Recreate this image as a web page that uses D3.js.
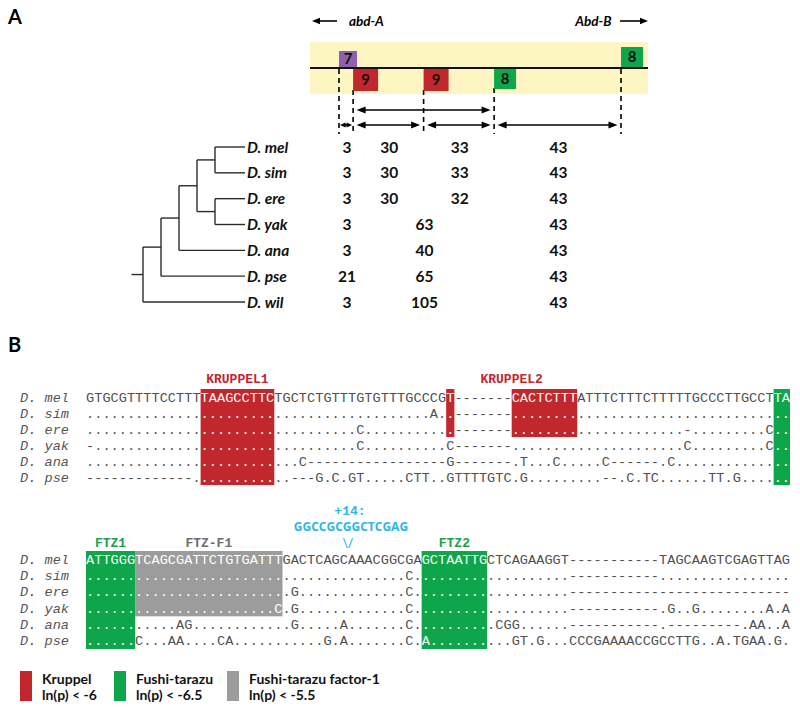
<!DOCTYPE html>
<html><head><meta charset="utf-8">
<script src="https://cdn.jsdelivr.net/npm/d3@7/dist/d3.min.js"></script>
<style>body{margin:0;background:#fff}svg{display:block}</style>
</head><body>
<svg id="chart" width="800" height="711"></svg>
<script>
// ---------------- DATA ----------------
// Panel A: phylogeny + spacing between binding sites
const treeSpecies = ["D. mel","D. sim","D. ere","D. yak","D. ana","D. pse","D. wil"];
const treeNewick = [[[[["D. mel","D. sim"],["D. ere","D. yak"]],"D. ana"],"D. pse"],"D. wil"];
const spacingValues = [
  [3,30,33,43],[3,30,33,43],[3,30,32,43],
  [3,63,43],[3,40,43],[21,65,43],[3,105,43]
];
// binding sites on the schematic map (schematic order positions)
const siteIndex  = [0,1,6,11,20];
const siteLabels = ["7","9","9","8","8"];
const siteFactor = ["other","kr","kr","ftz","ftz"];
const siteStrand = [1,-1,-1,-1,1];
const spanRow1 = [[1,3]];
const spanRow2 = [[0,1],[1,2],[2,3],[3,4]];
const geneLeft = "abd-A", geneRight = "Abd-B";

// Panel B: alignment
const alignSpecies = ["D. mel","D. sim","D. ere","D. yak","D. ana","D. pse"];
const block1 = [
  "GTGCGTTTTCCTTT"+"TAAGCCTTC"+"TGCTCTGTTTGTGTTTGCCCG"+"T"+"-------"+"CACTCTTT"+"ATTTCTTTCTTTTTGCCCTTGCCT"+"TA",
  ".........................................."+"A"+".."+"-------"+"..................................",
  "................................."+"C"+".........."+"."+"-------"+"....................."+"-"+"........."+"C"+"..",
  "-"+"................................"+"C"+".........."+"C"+"-------"+"....................."+"C"+"........."+"C"+"..",
  ".........................."+"C"+"-----------------"+"G"+"-------"+".T...C.....C------.C"+"..............",
  "-------------"+"............"+"---"+"G.C.GT"+"....."+"CTT"+".."+"GTTTTGTC"+".G"+"........."+"--"+".C.TC"+"......"+"TT.G"+"......"
];
const block2 = [
  "ATTGGG"+"TCAGCGATTCTGTGATTT"+"GACTCAGCAAACGGCGA"+"GCTAATTG"+"CTCAGAAGGT"+"-----------"+"TAGCAAGTCGAGTTAG",
  "......................................."+"C"+"."+"........"+".........."+"-----------"+"................",
  "........................."+"G"+"............."+"C"+"."+"........"+".........."+"---------------------------",
  "......................."+"C"+"."+"G"+"............."+"C"+"."+"........"+".........."+"-----------"+".G..G........A.A",
  "..........."+"AG"+"............"+"G"+"....."+"A"+"......."+"C"+"."+"........"+"."+"CGG"+"......"+"-----------"+".---------.AA..A",
  "......"+"C...AA....CA"+"..........."+"G.A"+"......."+"C."+"A......."+"...GT.G..."+"CCCGAAAACCGCCTTG"+"..A.TGAA.G."
];
// motifs (columns inclusive)
const motifs1 = [
  {start:14,end:22,rows:6,factor:"kr",label:"KRUPPEL1",labelFrom:14,labelTo:22},
  {start:44,end:44,rows:3,factor:"kr",label:"KRUPPEL2",labelFrom:44,labelTo:59},
  {start:52,end:59,rows:3,factor:"kr",label:"",labelFrom:52,labelTo:59},
  {start:84,end:85,rows:6,factor:"ftz",label:"",labelFrom:84,labelTo:85}
];
const motifs2 = [
  {start:0,end:5,rows:6,factor:"ftz",label:"FTZ1",labelFrom:0,labelTo:5},
  {start:6,end:23,rows:4,factor:"ftzf1",label:"FTZ-F1",labelFrom:6,labelTo:23},
  {start:41,end:48,rows:6,factor:"ftz",label:"FTZ2",labelFrom:41,labelTo:48}
];
const insertionCol = 32, insertionCount = "+14:", insertionSeq = "GGCCGCGGCTCGAG";

const legendNames = ["Kruppel","Fushi-tarazu","Fushi-tarazu factor-1"];
const legendThresh = ["ln(p) < -6","ln(p) < -6.5","ln(p) < -5.5"];
const legendFactor = ["kr","ftz","ftzf1"];

// ---------------- STYLE ----------------
const colors = {kr:"#c1272d", ftz:"#0ea54b", ftzf1:"#9c9c9c", other:"#9061aa"};
const labelColors = {kr:"#c1272d", ftz:"#1aa04c", ftzf1:"#6d6d6d"};
const boxSize = {other:{w:18,h:16}, kr:{w:25,h:22}, ftz:{w:22,h:20}};
const sans = "Lato, 'Open Sans', sans-serif";
const mono = "'Liberation Mono', monospace";

const svg = d3.select("#chart");

// ---------------- PANEL A ----------------
svg.append("text").attr("x",8).attr("y",24).text("A")
  .attr("font-family",sans).attr("font-weight",700).attr("font-size",20);

const mapX = d3.scaleLinear().domain([0,20]).range([339,621]);
const lineY = 68;

function arrowHead(g, x, y, dir, len, hw, color) {
  g.append("path").attr("d", `M${x},${y} L${x - dir*len},${y-hw} L${x - dir*len},${y+hw} Z`)
    .attr("fill", color||"#000");
}
const ga = svg.append("g");
ga.append("line").attr("x1",337).attr("x2",318).attr("y1",21).attr("y2",21).attr("stroke","#000").attr("stroke-width",1.6);
arrowHead(ga, 312, 21, -1, 8, 3.2);
ga.append("text").attr("x",349).attr("y",25.5).text(geneLeft)
  .attr("font-family",sans).attr("font-style","italic").attr("font-weight",700).attr("font-size",13.5);
ga.append("text").attr("x",611.5).attr("y",25.5).attr("text-anchor","end").text(geneRight)
  .attr("font-family",sans).attr("font-style","italic").attr("font-weight",700).attr("font-size",13.5);
ga.append("line").attr("x1",620).attr("x2",641).attr("y1",21).attr("y2",21).attr("stroke","#000").attr("stroke-width",1.6);
arrowHead(ga, 648, 21, 1, 8, 3.2);

svg.append("rect").attr("x",310).attr("y",42).attr("width",338).attr("height",52).attr("fill","#fdf6c2");
svg.append("line").attr("x1",310).attr("x2",648).attr("y1",lineY).attr("y2",lineY)
  .attr("stroke","#111").attr("stroke-width",2);

const dashBottom = 134;
siteIndex.forEach((s,i)=>{
  const x = mapX(s), b = boxSize[siteFactor[i]];
  const top = siteStrand[i] > 0 ? lineY+1 : lineY + b.h;
  svg.append("line").attr("x1",x).attr("x2",x).attr("y1",top).attr("y2",dashBottom)
    .attr("stroke","#000").attr("stroke-width",1.6).attr("stroke-dasharray","5,4");
});
siteIndex.forEach((s,i)=>{
  const x = mapX(s), b = boxSize[siteFactor[i]];
  const y = siteStrand[i] > 0 ? lineY - 1 - b.h : lineY + 1;
  svg.append("rect").attr("x",x).attr("y",y).attr("width",b.w).attr("height",b.h)
    .attr("fill",colors[siteFactor[i]]);
  svg.append("text").attr("x",x+b.w/2).attr("y",y+b.h/2+5).attr("text-anchor","middle")
    .text(siteLabels[i]).attr("font-family",sans).attr("font-weight",700).attr("font-size",15).attr("fill","#111");
});
function dblArrow(a, b, y) {
  const x1 = mapX(siteIndex[a]), x2 = mapX(siteIndex[b]);
  const inset = (x2-x1) < 20 ? 1 : 3.5;
  const l = x1+inset, r = x2-inset;
  const len = Math.min(9, (r-l)/2 - 0.5), hw = len < 6 ? 2.5 : 3.6;
  svg.append("line").attr("x1",l+len-1).attr("x2",r-len+1).attr("y1",y).attr("y2",y)
    .attr("stroke","#000").attr("stroke-width",1.6);
  arrowHead(svg, l, y, -1, len, hw);
  arrowHead(svg, r, y, 1, len, hw);
}
spanRow1.forEach(d=>dblArrow(d[0],d[1],110));
spanRow2.forEach(d=>dblArrow(d[0],d[1],125));

// tree
const yTree = d3.scalePoint().domain(treeSpecies).range([147,302]);
const xDepth = d3.scaleLinear().domain([0,4]).range([143,215]);
const leafEnd = 245;
const root = d3.hierarchy(treeNewick, d => Array.isArray(d) ? d : null);
root.eachAfter(n=>{
  if (!n.children) { n.py = yTree(n.data); n.px = leafEnd; }
  else { n.py = d3.mean(n.children, c=>c.py); n.px = xDepth(n.depth); }
});
const tg = svg.append("g").attr("stroke","#2b2b2b").attr("stroke-width",1.4).attr("fill","none");
tg.append("line").attr("x1",131.5).attr("x2",root.px).attr("y1",root.py).attr("y2",root.py);
root.descendants().forEach(n=>{
  if (n.parent) tg.append("line").attr("x1",n.parent.px).attr("x2",n.px).attr("y1",n.py).attr("y2",n.py);
  if (n.children) {
    const ys = n.children.map(c=>c.py);
    tg.append("line").attr("x1",n.px).attr("x2",n.px).attr("y1",d3.min(ys)).attr("y2",d3.max(ys));
  }
});
treeSpecies.forEach((sp,i)=>{
  const y = yTree(sp) + 5.5;
  svg.append("text").attr("x",247).attr("y",y).text(sp)
    .attr("font-family",sans).attr("font-style","italic").attr("font-weight",700).attr("font-size",15.5).attr("fill","#111");
  const vals = spacingValues[i];
  const spans = vals.length === 4 ? [[0,1],[1,2],[2,3],[3,4]] : [[0,1],[1,3],[3,4]];
  vals.forEach((v,j)=>{
    const xm = (mapX(siteIndex[spans[j][0]]) + mapX(siteIndex[spans[j][1]]))/2;
    svg.append("text").attr("x",xm+1).attr("y",y).attr("text-anchor","middle").text(v)
      .attr("font-family",sans).attr("font-weight",700).attr("font-size",15.5).attr("fill","#111");
  });
});

// ---------------- PANEL B ----------------
svg.append("text").attr("x",8).attr("y",352).text("B")
  .attr("font-family",sans).attr("font-weight",700).attr("font-size",20);

const colX = d3.scaleLinear().domain([0,86]).range([86,790]);
const cw = colX(1)-colX(0);
const fs = 13.6;

function drawBlock(seqs, motifs, rowScale, labelY) {
  const rh = rowScale(1)-rowScale(0);
  const g = svg.append("g");
  motifs.forEach(m=>{
    g.append("rect").attr("x",colX(m.start)).attr("y",rowScale(0))
      .attr("width",colX(m.end+1)-colX(m.start)).attr("height",rowScale(m.rows)-rowScale(0))
      .attr("fill",colors[m.factor]);
    if (m.label) {
      g.append("text").attr("x",(colX(m.labelFrom)+colX(m.labelTo+1))/2).attr("y",labelY)
        .attr("text-anchor","middle").text(m.label)
        .attr("font-family",mono).attr("font-weight",700).attr("font-size",13)
        .attr("fill",labelColors[m.factor]);
    }
  });
  const inBox = (r,c)=>motifs.some(m=>c>=m.start && c<=m.end && r<m.rows);
  seqs.forEach((s,r)=>{
    const y = rowScale(r) + rh/2 + 4.6;
    g.append("text").attr("x",20).attr("y",y).text(alignSpecies[r])
      .attr("font-family",mono).attr("font-style","italic").attr("font-size",fs).attr("fill","#555");
    s.split("").forEach((ch,c)=>{
      g.append("text").attr("x",colX(c)+cw/2).attr("y",y).attr("text-anchor","middle").text(ch)
        .attr("font-family",mono).attr("font-size",fs)
        .attr("fill", inBox(r,c) ? "#ffffff" : "#505050");
    });
  });
}
drawBlock(block1, motifs1, d3.scaleLinear().domain([0,6]).range([389,485]), 383);
drawBlock(block2, motifs2, d3.scaleLinear().domain([0,6]).range([551,649]), 547);

const insX = colX(insertionCol);
svg.append("text").attr("x",insX+2).attr("y",515).attr("text-anchor","middle").text(insertionCount)
  .attr("font-family",mono).attr("font-weight",700).attr("font-size",13).attr("fill","#2eb5e8");
svg.append("text").attr("x",insX+3).attr("y",531).attr("text-anchor","middle").text(insertionSeq)
  .attr("font-family","'Open Sans', sans-serif").attr("font-weight",700).attr("font-size",12).attr("fill","#2eb5e8");
svg.append("text").attr("x",insX).attr("y",548).attr("text-anchor","middle").text("\\/")
  .attr("font-family","'Open Sans', sans-serif").attr("font-size",14).attr("fill","#2eb5e8");

const legX = [20,114,227];
legendFactor.forEach((f,i)=>{
  svg.append("rect").attr("x",legX[i]).attr("y",671).attr("width",12).attr("height",30).attr("fill",colors[f]);
  svg.append("text").attr("x",legX[i]+22).attr("y",684).text(legendNames[i])
    .attr("font-family",sans).attr("font-weight",700).attr("font-size",14).attr("fill","#111");
  svg.append("text").attr("x",legX[i]+22).attr("y",699.5).text(legendThresh[i])
    .attr("font-family",sans).attr("font-weight",700).attr("font-size",14).attr("fill","#111");
});
</script>
</body></html>
